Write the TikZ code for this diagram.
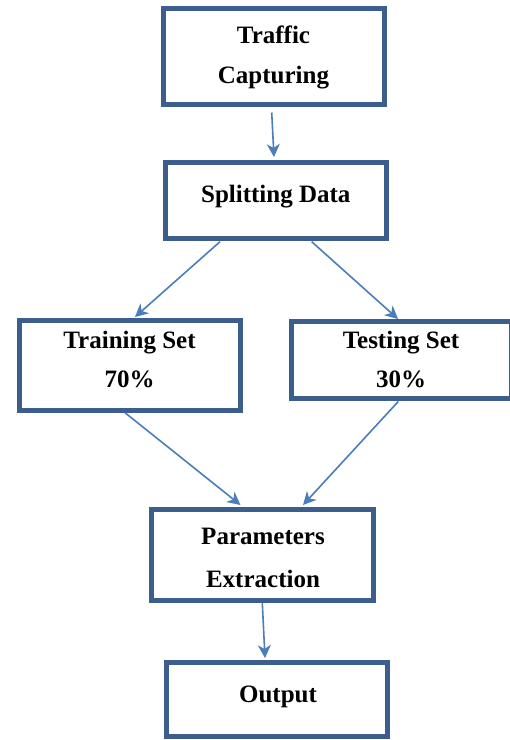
\documentclass[tikz,border=0pt]{standalone}
\usepackage{fontspec}
\setmainfont{Liberation Serif}
\usetikzlibrary{arrows.meta}
\definecolor{boxblue}{RGB}{59,94,140}
\definecolor{flowblue}{RGB}{74,126,187}
\tikzset{
  stagebox/.style={draw=boxblue, line width=5pt, rectangle, fill=white,
    minimum width=221pt, inner sep=0pt, outer sep=0pt},
  caption/.style={anchor=base, inner sep=0pt, font=\fontsize{25}{30}\selectfont\bfseries},
  flow/.style={draw=flowblue, line width=1.6pt,
    -{Stealth[length=13pt, width=13pt, inset=4pt]}},
}
\begin{document}
\begin{tikzpicture}[x=1pt, y=-1pt]
\useasboundingbox (0,0) rectangle (510,740);
\fill[white] (0,0) rectangle (510,740);

% processing stages
\node[stagebox, minimum height=96pt]   (cap)   at (273.5,56.5)   {};
\node[stagebox, minimum height=75.5pt] (split) at (276,200.25)   {};
\node[stagebox, minimum height=90pt]   (train) at (129.5,365)    {};
\node[stagebox, minimum height=77pt, minimum width=220.5pt] (test) at (401.25,360) {};
\node[stagebox, minimum height=91.5pt, minimum width=222pt] (param) at (262.5,554.75) {};
\node[stagebox, minimum height=74pt]   (out)   at (277.25,699.5) {};

% stage captions
\node[caption] (capA)   at (273.5,43)  {Traffic};
\node[caption] (capB)   at (273.5,83)  {Capturing};
\node[caption] (splitA) at (275.8,202) {Splitting Data};
\node[caption] (trainA) at (129.5,348) {Training Set};
\node[caption] (trainB) at (129.5,387) {70\%};
\node[caption] (testA)  at (401,348)   {Testing Set};
\node[caption] (testB)  at (401,387)   {30\%};
\node[caption] (paramA) at (263,544)   {Parameters};
\node[caption] (paramB) at (263,587)   {Extraction};
\node[caption] (outA)   at (278,702)   {Output};

% data flow
\draw[flow] ([xshift=-1.8pt, yshift=-8pt]cap.south)   -- ([xshift=-2pt, yshift=5.5pt]split.north);
\draw[flow] ([xshift=-56pt, yshift=-3.7pt]split.south) -- ([xshift=5.5pt, yshift=3pt]train.north);
\draw[flow] ([xshift=35.7pt, yshift=-3.7pt]split.south) -- ([xshift=-3.25pt, yshift=2.5pt]test.north);
\draw[flow] ([xshift=-4.5pt, yshift=-2.7pt]train.south) -- ([xshift=-22pt, yshift=4pt]param.north);
\draw[flow] ([xshift=-3pt, yshift=-3pt]test.south)     -- ([xshift=40.5pt, yshift=4pt]param.north);
\draw[flow] ([xshift=-0.2pt, yshift=-2.5pt]param.south) -- ([xshift=-12.25pt, yshift=4.5pt]out.north);
\end{tikzpicture}
\end{document}
